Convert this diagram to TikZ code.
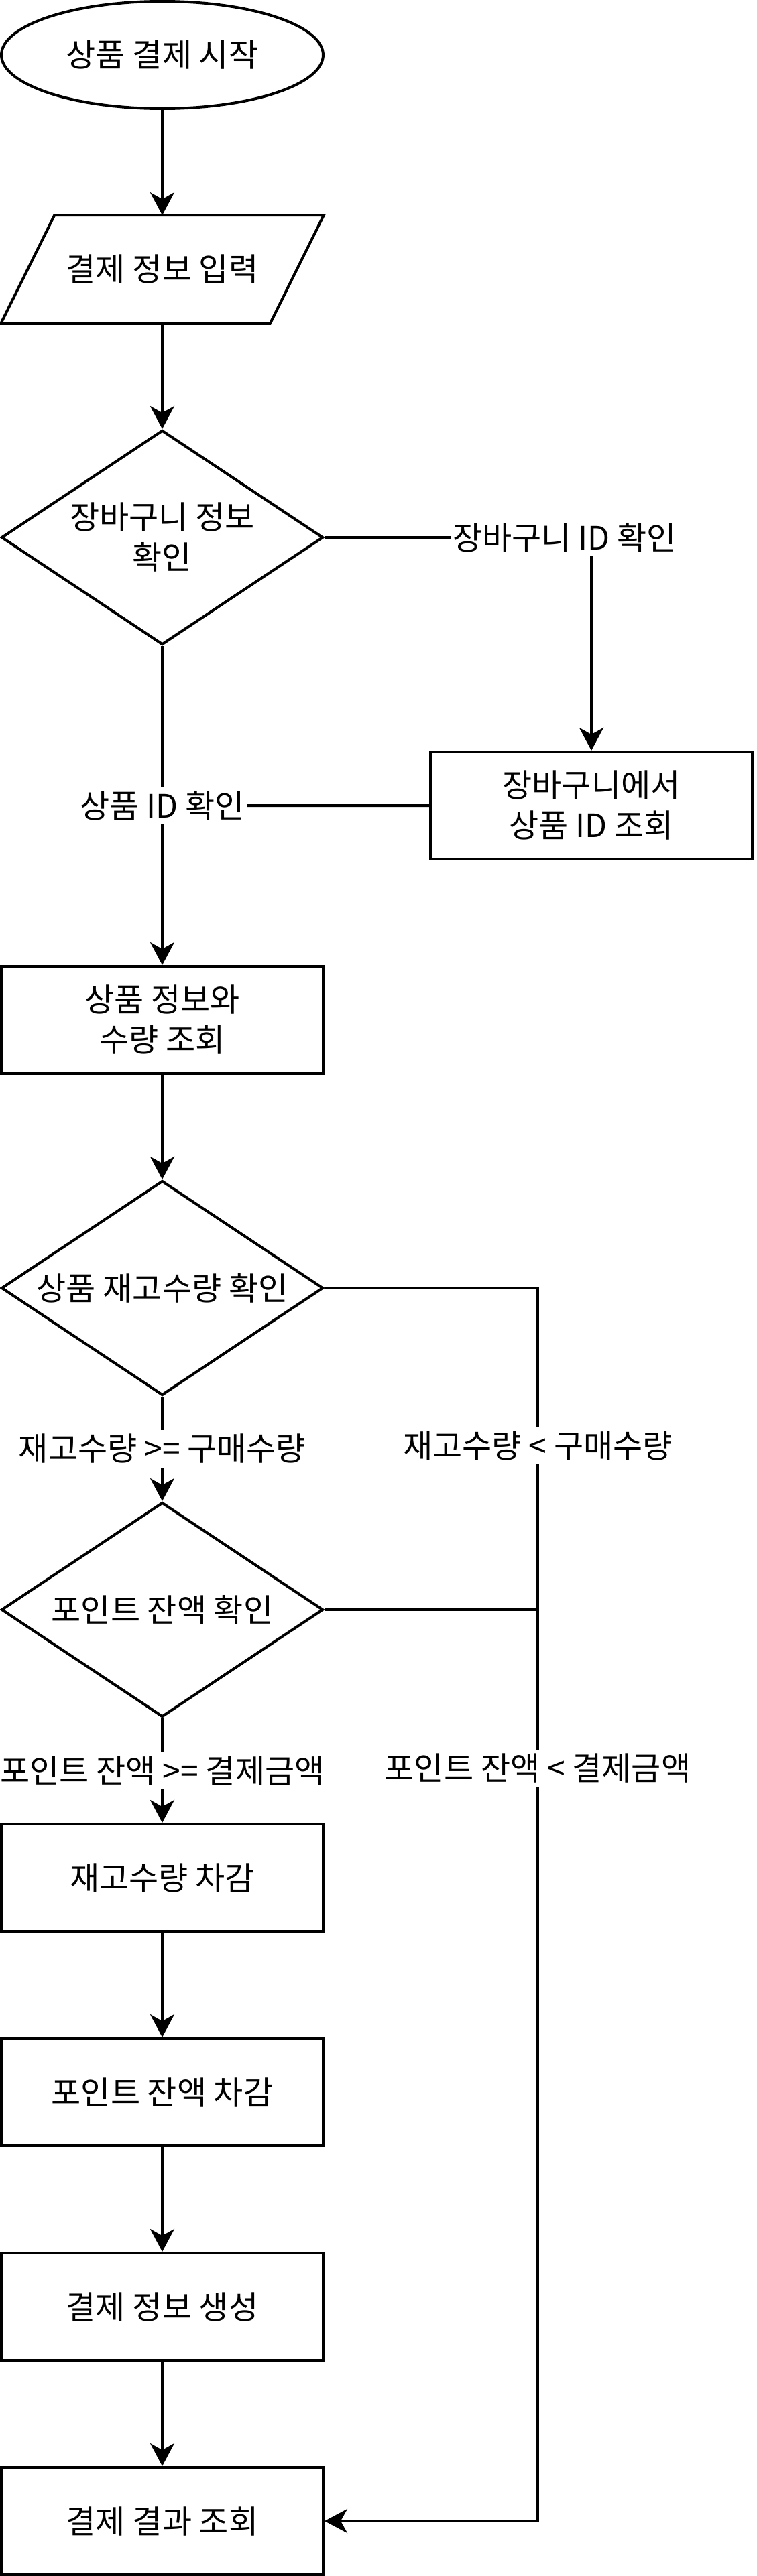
\documentclass[tikz,border=0pt]{standalone}
\usepackage{fontspec}
\setmainfont{Noto Sans CJK KR}
\usetikzlibrary{shapes.geometric, arrows.meta, positioning, calc}

\begin{document}
\begin{tikzpicture}[x=1pt, y=-1pt,
    every node/.style={font=\fontsize{12pt}{15pt}\selectfont, align=center},
    box/.style={draw, line width=1pt, minimum width=120pt, minimum height=40pt, inner sep=0pt},
    term/.style={ellipse, draw, line width=1pt, minimum width=120pt, minimum height=40pt, inner sep=0pt},
    decision/.style={diamond, draw, line width=1pt, aspect=1.5, minimum width=120pt,
                     minimum height=80pt, inner sep=0pt},
    io/.style={minimum width=100pt, minimum height=40pt, inner sep=0pt},
    arr/.style={-{Stealth[length=8.5pt, width=9pt, inset=2.5pt]}, line width=1pt},
    line/.style={line width=1pt},
    lbl/.style={fill=white, inner xsep=0.5pt, inner ysep=1.5pt}
]
    \useasboundingbox (0,0) rectangle (282,961);

    \node[term] (start) at (60.5, 20.5) {상품 결제 시작};
    \node[io] (inp) at (60.5, 100.5) {결제 정보 입력};
    \draw[line] ($(inp.north west)+(10,0)$) -- ($(inp.north east)+(10,0)$)
        -- ($(inp.south east)+(-10,0)$) -- ($(inp.south west)+(-10,0)$) -- cycle;
    \node[decision] (cart) at (60.5, 200.5) {장바구니 정보\\확인};
    \node[box] (cartbox) at (220.5, 300.5) {장바구니에서\\상품 ID 조회};
    \node[box] (info) at (60.5, 380.5) {상품 정보와\\수량 조회};
    \node[decision] (stock) at (60.5, 480.5) {상품 재고수량 확인};
    \node[decision] (point) at (60.5, 600.5) {포인트 잔액 확인};
    \node[box] (substock) at (60.5, 700.5) {재고수량 차감};
    \node[box] (subpoint) at (60.5, 780.5) {포인트 잔액 차감};
    \node[box] (makepay) at (60.5, 860.5) {결제 정보 생성};
    \node[box] (result) at (60.5, 940.5) {결제 결과 조회};
    \coordinate (rail) at (200.5, 940.5);

    \draw[arr] (start) -- (inp);
    \draw[arr] (inp) -- (cart);
    \draw[arr] (cart.east) -| node[lbl, pos=0.45] (lblcart) {장바구니 ID 확인} (cartbox.north);
    \draw[arr] (cart) -- node[lbl] (lblpid) {상품 ID 확인} (info);
    \draw[line] (cartbox.west) -- (lblpid.east);
    \draw[arr] (info) -- (stock);

    % 재고 / 포인트 분기
    \draw[arr] (stock) -- node[lbl] (lblokstock) {재고수량 >= 구매수량} (point);
    \draw[arr] (stock.east) -| node[lbl, pos=0.564] (lblnostock) {재고수량 < 구매수량} (rail)
        -- (result.east);
    \draw[arr] (point) -- node[lbl] (lblokpoint) {포인트 잔액 >= 결제금액} (substock);
    \draw[line] (point.east) -| node[lbl, pos=0.587] (lblnopoint) {포인트 잔액 < 결제금액} (rail);

    \draw[arr] (substock) -- (subpoint);
    \draw[arr] (subpoint) -- (makepay);
    \draw[arr] (makepay) -- (result);
\end{tikzpicture}
\end{document}
